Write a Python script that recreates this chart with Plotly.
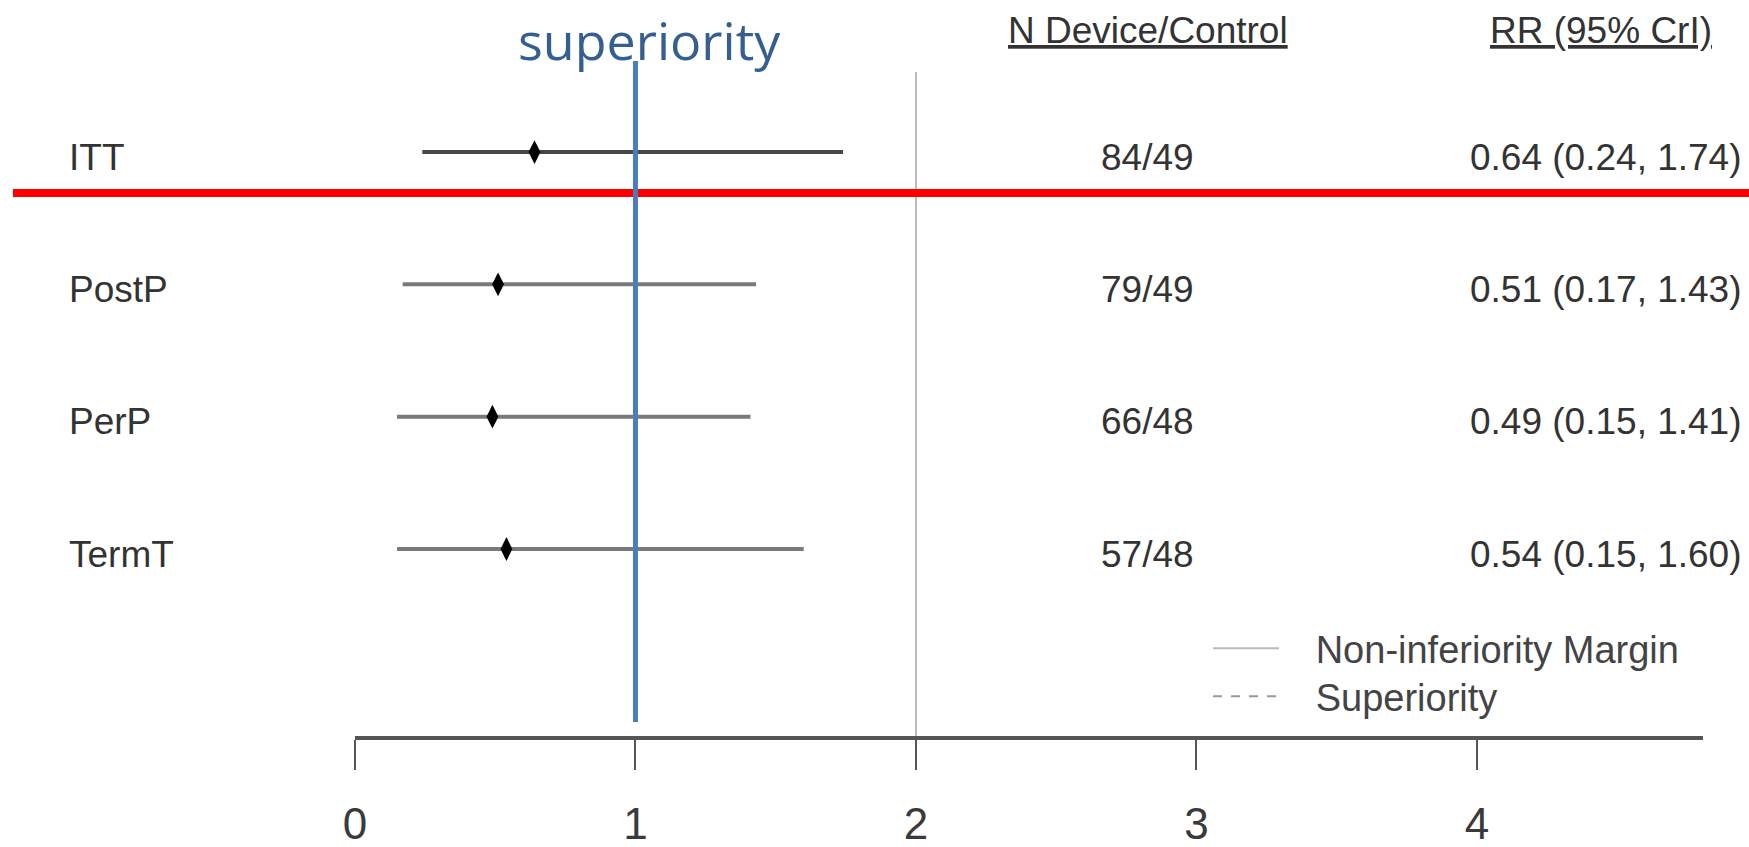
import plotly.graph_objects as go

# ---------------- data ----------------
categories = ["ITT", "PostP", "PerP", "TermT"]
row_pos = [4, 3, 2, 1]
rr = [0.64, 0.51, 0.49, 0.54]
ci_low = [0.24, 0.17, 0.15, 0.15]
ci_high = [1.74, 1.43, 1.41, 1.60]
n_device = [84, 79, 66, 57]
n_control = [49, 49, 48, 48]
bar_colors = ["#474747", "#7a7a7a", "#7a7a7a", "#7a7a7a"]
x_ticks = [0, 1, 2, 3, 4]
noninf_margin = 2
superiority_value = 1

# ---------------- layout geometry ----------------
W, H = 1749, 847
L, R, T, B = 355, 46, 0, 111
PW, PH = W - L - R, H - T - B
x_range = [0, 4.806]
y_range = [-0.413, 5.149]


def px_x_paper(px):
    return (px - L) / PW


def px_y_data(py):
    return y_range[1] - (py - T) / PH * (y_range[1] - y_range[0])


def px_y_paper(py):
    return (H - B - py) / PH


FONT = "Liberation Sans, Arial, sans-serif"
TXT = "#333333"
NB = "\u00a0\u00a0\u00a0"

fig = go.Figure()

# non-inferiority margin
fig.add_trace(go.Scatter(
    x=[noninf_margin, noninf_margin], y=[px_y_data(72), y_range[0]],
    mode="lines", line=dict(color="#bbbbbb", width=2),
    name=NB + "Non-inferiority Margin", showlegend=True, legend="legend",
    hoverinfo="skip"))

# superiority reference (dashed, covered by the blue highlight line)
fig.add_trace(go.Scatter(
    x=[superiority_value, superiority_value], y=[px_y_data(61), px_y_data(722)],
    mode="lines", line=dict(color="#999999", width=2, dash="dash"),
    name=NB + "Superiority", showlegend=True, legend="legend2", hoverinfo="skip"))

# credible intervals
for i, cat in enumerate(categories):
    fig.add_trace(go.Scatter(
        x=[ci_low[i], ci_high[i]], y=[row_pos[i], row_pos[i]],
        mode="lines", line=dict(color=bar_colors[i], width=4),
        showlegend=False, hoverinfo="skip"))

# point estimates
fig.add_trace(go.Scatter(
    x=rr, y=row_pos, mode="markers",
    marker=dict(symbol="diamond-tall", size=17, color="black"),
    showlegend=False, hoverinfo="skip"))

# red separator line
fig.add_shape(type="line", xref="paper", yref="paper",
              x0=px_x_paper(13), x1=px_x_paper(W),
              y0=px_y_paper(193), y1=px_y_paper(193),
              line=dict(color="#ff0000", width=8), layer="above")
# blue superiority highlight line
fig.add_shape(type="line", xref="x", yref="y",
              x0=superiority_value, x1=superiority_value,
              y0=px_y_data(61), y1=px_y_data(722),
              line=dict(color="#4a7ebb", width=5), layer="above")

ann = []
ann.append(dict(text="superiority", x=1.05, y=px_y_data(39), xref="x", yref="y",
                showarrow=False, xanchor="center", yanchor="middle",
                font=dict(family="Open Sans, sans-serif", size=52, color="#365f91")))
ann.append(dict(text="<u>N Device/Control</u>", x=px_x_paper(1148), y=px_y_paper(30),
                xref="paper", yref="paper", showarrow=False, xanchor="center", yanchor="middle",
                font=dict(family=FONT, size=37, color=TXT)))
ann.append(dict(text="<u>RR (95% CrI)</u>", x=px_x_paper(1601), y=px_y_paper(30),
                xref="paper", yref="paper", showarrow=False, xanchor="center", yanchor="middle",
                font=dict(family=FONT, size=37, color=TXT)))
for i, cat in enumerate(categories):
    ann.append(dict(text=cat, x=px_x_paper(67), y=row_pos[i], xref="paper", yref="y",
                    showarrow=False, xanchor="left", yanchor="middle", yshift=-5,
                    font=dict(family=FONT, size=37, color=TXT)))
    ann.append(dict(text=f"{n_device[i]}/{n_control[i]}", x=px_x_paper(1147), y=row_pos[i],
                    xref="paper", yref="y", showarrow=False, xanchor="center", yanchor="middle",
                    yshift=-5, font=dict(family=FONT, size=37, color=TXT)))
    ann.append(dict(text=f"{rr[i]:.2f} ({ci_low[i]:.2f}, {ci_high[i]:.2f})",
                    x=px_x_paper(1468), y=row_pos[i], xref="paper", yref="y",
                    showarrow=False, xanchor="left", yanchor="middle", yshift=-5,
                    font=dict(family=FONT, size=37, color=TXT)))

legend_style = dict(xanchor="left", yanchor="top", xref="paper", yref="paper",
                    font=dict(family=FONT, size=38, color="#444444"),
                    bgcolor="rgba(0,0,0,0)", itemwidth=66, tracegroupgap=0)

fig.update_layout(
    width=W, height=H, autosize=False,
    margin=dict(l=L, r=R, t=T, b=B, pad=0, autoexpand=False),
    paper_bgcolor="white", plot_bgcolor="white",
    annotations=ann,
    showlegend=True,
    legend=dict(x=px_x_paper(1208), y=px_y_paper(617), **legend_style),
    legend2=dict(x=px_x_paper(1208), y=px_y_paper(665), **legend_style),
    xaxis=dict(range=x_range, showgrid=False, zeroline=False, showline=True,
               linecolor="#555555", linewidth=4, ticks="outside", ticklen=30,
               tickwidth=2, tickcolor="#555555", tickvals=x_ticks,
               ticktext=[str(t) for t in x_ticks], ticklabelstandoff=16,
               automargin=False,
               tickfont=dict(family=FONT, size=44, color="#3a3a3a"), fixedrange=True),
    yaxis=dict(range=y_range, showgrid=False, zeroline=False, showline=False,
               showticklabels=False, ticks="", automargin=False, fixedrange=True),
)

fig.write_html("out.html", config={"displayModeBar": False},
               post_script="document.body.style.margin='0';document.body.style.overflow='hidden';")
